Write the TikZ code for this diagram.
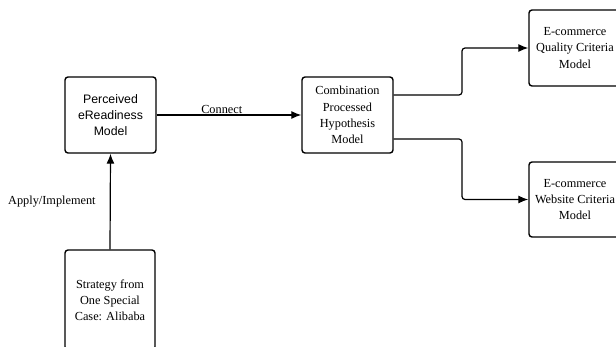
\documentclass[tikz,border=0pt]{standalone}
\usepackage{fontspec}
\setmainfont{Liberation Serif}
\setsansfont{Liberation Sans}
\usetikzlibrary{arrows.meta}
\begin{document}
\begin{tikzpicture}[x=1pt,y=-1pt,
  box/.style={draw, line width=1.4pt, rounded corners=3pt, align=center, inner sep=0pt,
    font=\fontsize{12.3}{16.2}\selectfont},
  conn/.style={line width=1.2pt, -{Latex[length=10pt,width=8pt]}},
  lbl/.style={font=\fontsize{12.3}{15}\selectfont, inner sep=1pt}]
\useasboundingbox (0,0) rectangle (616,347);
\clip (0,0) rectangle (616,347);
\node[box, minimum width=91pt, minimum height=76pt, font=\sffamily\fontsize{12.3}{16.2}\selectfont] (per) at (110.5,115) {Perceived\\eReadiness\\Model};
\node[box, minimum width=90pt, minimum height=100pt] (str) at (110,300) {Strategy from\\One Special\\Case: Alibaba};
\node[box, minimum width=91pt, minimum height=76pt] (com) at (347.5,115) {Combination\\Processed\\Hypothesis\\Model};
\node[box, minimum width=92pt, minimum height=76pt] (qua) at (575,48) {E-commerce\\Quality Criteria\\Model};
\node[box, minimum width=92pt, minimum height=75pt] (web) at (575,199.5) {E-commerce\\Website Criteria\\Model};
\draw[conn] (str.north) -- node[lbl, pos=0.5, left=13pt] {Apply/Implement} (per.south);
\draw[conn] (per.east) -- node[lbl, above, pos=0.45] {Connect} (com.west);
\coordinate (c1) at (com.east |- 0,95);
\coordinate (c2) at (com.east |- 0,139);
\draw[conn, rounded corners=3pt] (c1) -| (462,48) -- (qua.west);
\draw[conn, rounded corners=3pt] (c2) -| (462,199.5) -- (web.west);
\end{tikzpicture}
\end{document}
